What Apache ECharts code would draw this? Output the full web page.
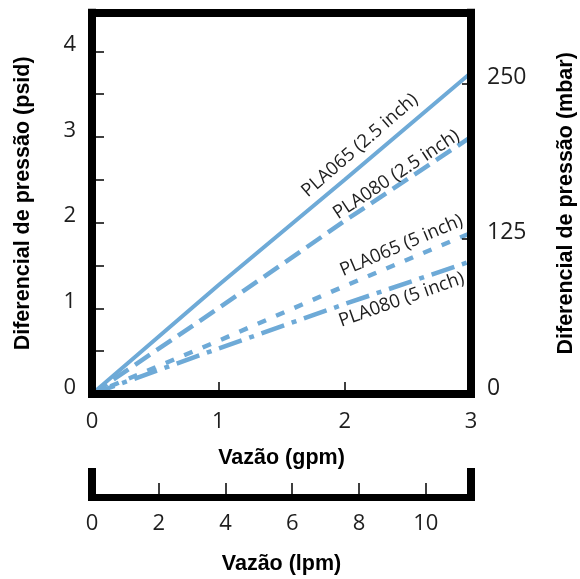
<!DOCTYPE html>
<html>
<head>
<meta charset="utf-8">
<script src="https://cdn.jsdelivr.net/npm/echarts@6/dist/echarts.min.js"></script>
<style>html,body{margin:0;padding:0;background:#fff;}#c{width:580px;height:579px;}</style>
</head>
<body>
<div id="c"></div>
<script>
// ---- data ----
const flowGpm = [0, 1, 2, 3];
const pla065_25 = [0, 1.27, 2.5, 3.75];
const pla080_25 = [0, 1.0, 2.02, 3.0];
const pla065_5 = [0, 0.62, 1.26, 1.88];
const pla080_5 = [0, 0.53, 1.05, 1.55];
const seriesNames = ['PLA065 (2.5 inch)', 'PLA080 (2.5 inch)', 'PLA065 (5 inch)', 'PLA080 (5 inch)'];
// label anchors [gpm, psid] and rotation (deg)
const labelAnchors = [[2.12, 2.90], [2.41, 2.56], [2.45, 1.73], [2.45, 1.10]];
const labelAngles = [41, 33.5, 23, 19.5];
const psidTicks = [0, 1, 2, 3, 4];
const mbarTicks = [0, 125, 250];
const lpmTicks = [0, 2, 4, 6, 8, 10];
const PSI_TO_MBAR = 68.9476;
const GPM_TO_LPM = 3.78541;
const psidMax = 4.45;
const gpmMax = 3;

const blue = '#6eaad7';
const tickFont = { fontFamily: 'Open Sans', fontSize: 22, color: '#1e1e1e' };
const titleFont = { fontFamily: 'Liberation Sans', fontSize: 21.5, fontWeight: 'bold', color: '#000' };
const frameLine = { show: true, onZero: false, lineStyle: { color: '#000', width: 8, cap: 'square' } };
const tickStyle = (len) => ({ show: true, inside: true, length: len, lineStyle: { color: '#000', width: 1.5 } });

const dashTypes = ['solid', [18, 8], [9, 11], [24, 8, 5, 8]];
const valueSets = [pla065_25, pla080_25, pla065_5, pla080_5];

const series = valueSets.map((vals, i) => ({
  name: seriesNames[i],
  type: 'line',
  xAxisIndex: 0,
  yAxisIndex: 0,
  data: flowGpm.map((x, j) => [x, vals[j]]),
  showSymbol: false,
  symbol: 'none',
  smooth: false,
  z: 2,
  lineStyle: { color: blue, width: i === 0 ? 4 : 4.5, type: dashTypes[i] },
  markPoint: {
    symbol: 'circle',
    symbolSize: 0,
    silent: true,
    data: [{ coord: labelAnchors[i] }],
    label: {
      show: true,
      position: 'inside',
      formatter: seriesNames[i],
      rotate: labelAngles[i],
      fontFamily: 'Open Sans',
      fontSize: 18.5,
      color: '#1e1e1e'
    }
  }
}));

const option = {
  animation: false,
  backgroundColor: '#fff',
  grid: [
    { left: 92, right: 109, top: 12.7, height: 381.3, containLabel: false, outerBoundsMode: 'none' },
    { left: 92, right: 109, top: 472, height: 25, containLabel: false, outerBoundsMode: 'none' }
  ],
  xAxis: [
    {
      type: 'value', gridIndex: 0, position: 'bottom', min: 0, max: gpmMax, interval: 1,
      z: 10,
      axisLine: frameLine,
      axisTick: tickStyle(12),
      splitLine: { show: false },
      axisLabel: Object.assign({ margin: 17 }, tickFont),
      name: 'Vazão (gpm)', nameLocation: 'middle', nameGap: 53, nameTextStyle: titleFont
    },
    {
      type: 'value', gridIndex: 0, position: 'top', min: 0, max: gpmMax,
      z: 10,
      axisLine: frameLine, axisTick: { show: false }, axisLabel: { show: false }, splitLine: { show: false }
    },
    {
      type: 'value', gridIndex: 1, position: 'bottom', min: 0, max: gpmMax * GPM_TO_LPM, interval: 2,
      z: 10,
      axisLine: { show: true, onZero: false, lineStyle: { color: '#000', width: 7, cap: 'square' } },
      axisTick: tickStyle(14),
      splitLine: { show: false },
      axisLabel: Object.assign({ margin: 16, showMaxLabel: false,
        formatter: (v) => lpmTicks.indexOf(v) >= 0 ? String(v) : '' }, tickFont),
      name: 'Vazão (lpm)', nameLocation: 'middle', nameGap: 56, nameTextStyle: titleFont
    }
  ],
  yAxis: [
    {
      type: 'value', gridIndex: 0, position: 'left', min: 0, max: psidMax, interval: 0.5,
      z: 10,
      axisLine: frameLine,
      axisTick: tickStyle(12),
      splitLine: { show: false },
      axisLabel: Object.assign({ margin: 16, verticalAlign: 'bottom', lineHeight: 13,
        formatter: (v) => psidTicks.indexOf(v) >= 0 ? String(v) : '' }, tickFont),
      name: 'Diferencial de pressão (psid)', nameLocation: 'middle', nameGap: 58, nameRotate: 90,
      nameTextStyle: titleFont
    },
    {
      type: 'value', gridIndex: 0, position: 'right', min: 0, max: psidMax * PSI_TO_MBAR, interval: 125,
      z: 10,
      axisLine: frameLine,
      axisTick: tickStyle(9),
      splitLine: { show: false },
      axisLabel: Object.assign({ margin: 16, verticalAlign: 'bottom', lineHeight: 12,
        formatter: (v) => mbarTicks.indexOf(v) >= 0 ? String(v) : '' }, tickFont, { fontSize: 23 }),
      name: 'Diferencial de pressão (mbar)', nameLocation: 'middle', nameGap: 84, nameRotate: 90,
      nameTextStyle: titleFont
    },
    {
      type: 'value', gridIndex: 1, position: 'left', min: 0, max: 1,
      z: 10,
      axisLine: frameLine, axisTick: { show: false }, axisLabel: { show: false }, splitLine: { show: false }
    },
    {
      type: 'value', gridIndex: 1, position: 'right', min: 0, max: 1,
      z: 10,
      axisLine: frameLine, axisTick: { show: false }, axisLabel: { show: false }, splitLine: { show: false }
    }
  ],
  series: series
};

const chart = echarts.init(document.getElementById('c'), null, { renderer: 'canvas' });
chart.setOption(option);
</script>
</body>
</html>
